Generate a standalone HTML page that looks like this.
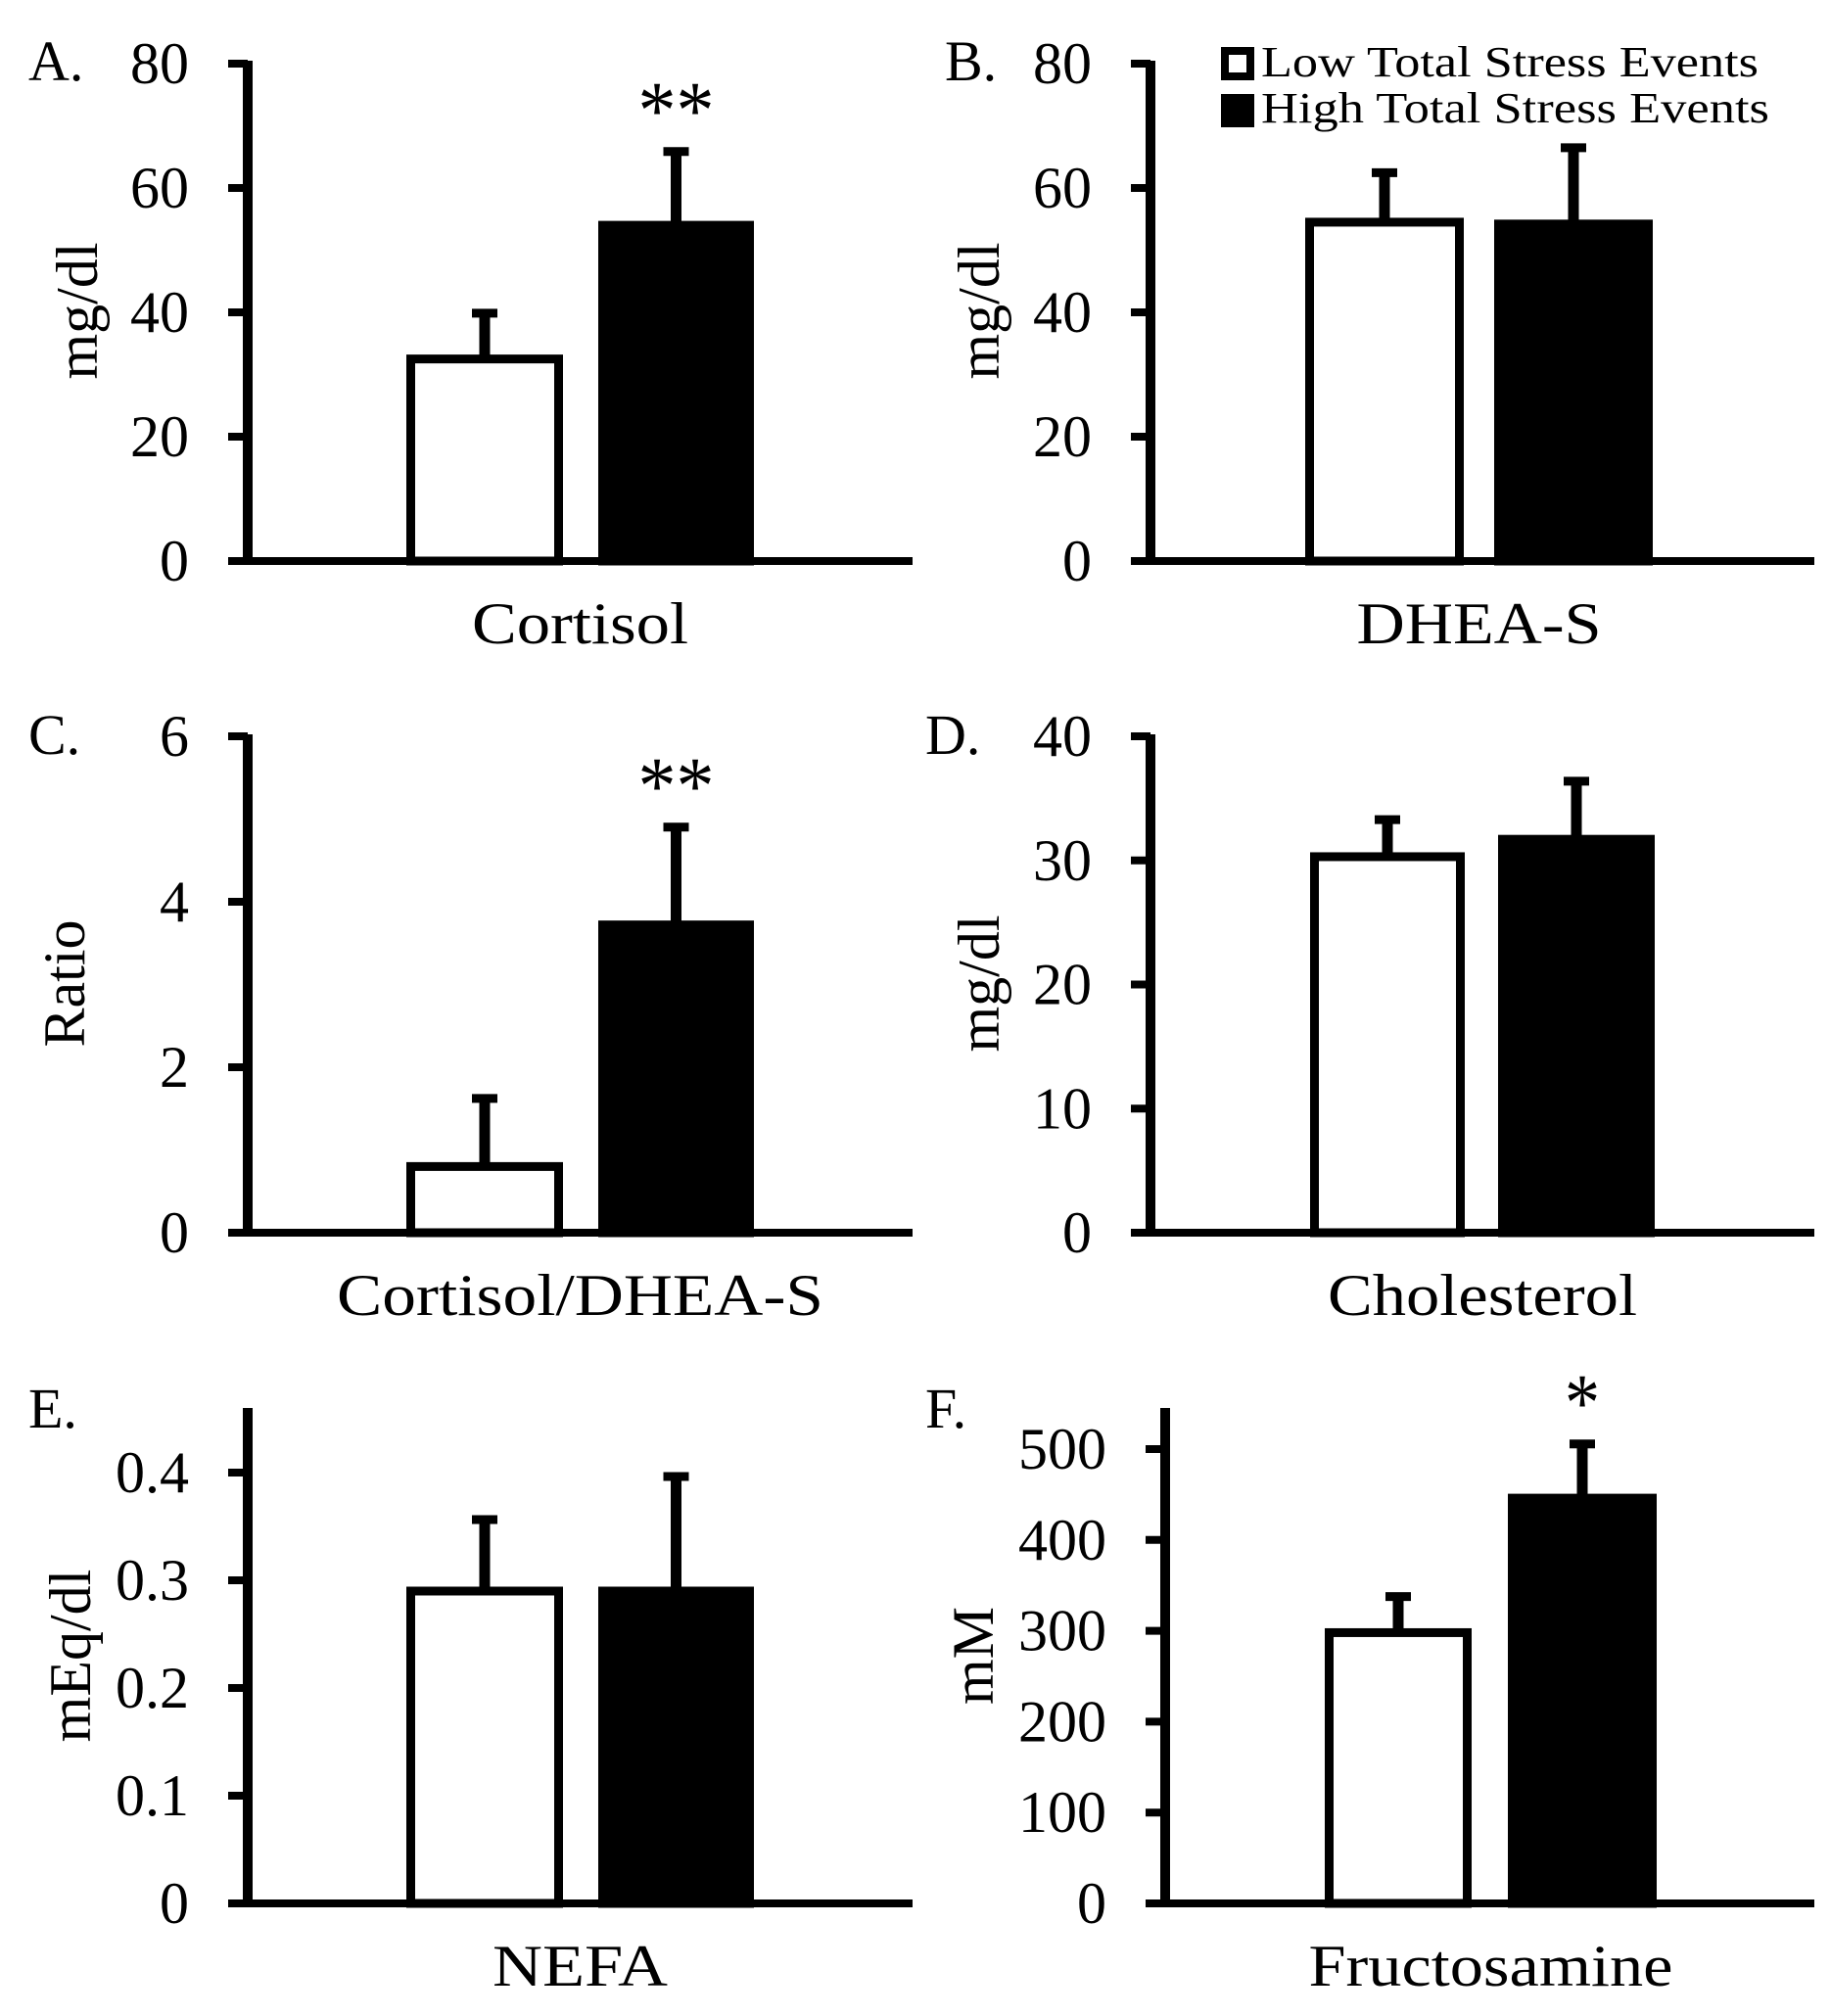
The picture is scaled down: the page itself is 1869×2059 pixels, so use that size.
<!DOCTYPE html>
<html><head><meta charset="utf-8"><style>
html,body{margin:0;padding:0;background:#fff}
svg{display:block}
text{font-family:"Liberation Serif",serif;fill:#000}
</style></head><body>
<svg id="chart" width="1869" height="2059" viewBox="0 0 1869 2059" xmlns="http://www.w3.org/2000/svg">
<g id="legend">
  <rect x="1251" y="52" width="26" height="26" fill="#fff" stroke="#000" stroke-width="8"/>
  <text x="1288" y="78" font-size="44" textLength="508" lengthAdjust="spacingAndGlyphs">Low Total Stress Events</text>
  <rect x="1247" y="96" width="34" height="34" fill="#000"/>
  <text x="1288" y="125" font-size="44" textLength="519" lengthAdjust="spacingAndGlyphs">High Total Stress Events</text>
</g>
</svg>
<script>
const panelLetters = ["A.", "B.", "C.", "D.", "E.", "F."];
const categories = ["Cortisol", "DHEA-S", "Cortisol/DHEA-S", "Cholesterol", "NEFA", "Fructosamine"];
const yTitles = ["mg/dl", "mg/dl", "Ratio", "mg/dl", "mEq/dl", "mM"];
const lowValues = [32.5, 54.5, 0.8, 30.3, 0.29, 298];
const lowErrors = [8, 8.6, 0.87, 3.3, 0.07, 44];
const highValues = [54, 54.2, 3.72, 31.7, 0.29, 446];
const highErrors = [12.5, 12.9, 1.23, 5, 0.11, 64];
const ticksA = [0, 20, 40, 60, 80];
const ticksB = [0, 20, 40, 60, 80];
const ticksC = [0, 2, 4, 6];
const ticksD = [0, 10, 20, 30, 40];
const ticksE = [0, 0.1, 0.2, 0.3, 0.4];
const ticksF = [0, 100, 200, 300, 400, 500];
const tickLabelsA = ["0", "20", "40", "60", "80"];
const tickLabelsB = ["0", "20", "40", "60", "80"];
const tickLabelsC = ["0", "2", "4", "6"];
const tickLabelsD = ["0", "10", "20", "30", "40"];
const tickLabelsE = ["0", "0.1", "0.2", "0.3", "0.4"];
const tickLabelsF = ["0", "100", "200", "300", "400", "500"];
const significance = ["**", "", "**", "", "", "*"];
const tickSets = [ticksA, ticksB, ticksC, ticksD, ticksE, ticksF];
const tickLabelSets = [tickLabelsA, tickLabelsB, tickLabelsC, tickLabelsD, tickLabelsE, tickLabelsF];

// layout (not data)
const layout = [
  {ax:253, x1:932, zero:573, topPx:65, topVal:80, axTop:62, b1:[415,575], b2:[611,770], letterX:29, titleX:79, catW:221, starW:78},
  {ax:1175, x1:1853, zero:573, topPx:65, topVal:80, axTop:62, b1:[1333,1495], b2:[1526,1688], letterX:965, titleX:1000, catW:250, starW:78},
  {ax:253, x1:932, zero:1259, topPx:752, topVal:6, axTop:750, b1:[415,575], b2:[611,770], letterX:29, titleX:66, catW:497, starW:78},
  {ax:1175, x1:1853, zero:1259, topPx:752, topVal:40, axTop:750, b1:[1338,1496], b2:[1530,1690], letterX:945, titleX:1000, catW:316, starW:78},
  {ax:253, x1:932, zero:1944, topPx:1504, topVal:0.4, axTop:1438, b1:[415,575], b2:[611,770], letterX:29, titleX:72, catW:179, starW:78},
  {ax:1190, x1:1853, zero:1944, topPx:1480, topVal:500, axTop:1438, b1:[1353,1503], b2:[1540,1692], letterX:945, titleX:994, catW:372, starW:36}
];
const NS = "http://www.w3.org/2000/svg";
const svg = document.getElementById("chart");
function mk(tag, attrs, parent) {
  const el = document.createElementNS(NS, tag);
  for (const k in attrs) el.setAttribute(k, attrs[k]);
  parent.appendChild(el);
  return el;
}
for (let p = 0; p < 6; p++) {
  const L = layout[p];
  const y = v => L.zero - (v / L.topVal) * (L.zero - L.topPx);
  const g = mk("g", {}, svg);
  
  
  const SW = 9;
  const bars = [[L.b1, lowValues[p], lowErrors[p], "#fff", "low"], [L.b2, highValues[p], highErrors[p], "#000", "high"]];
  bars.forEach(b => {
    const [xs, v, e, fill, nm] = b;
    const cx = (xs[0] + xs[1]) / 2;
    const ln = mk("line", {x1: cx, x2: cx, y1: y(v), y2: y(v + e), stroke: "#000", "stroke-width": 11}, g);
    
    
    const cap = mk("line", {x1: cx - 13, x2: cx + 13, y1: y(v + e) + 4, y2: y(v + e) + 4, stroke: "#000", "stroke-width": 9}, g);
    
    
    const r = mk("rect", {x: xs[0] + SW / 2, y: y(v), width: xs[1] - xs[0] - SW, height: L.zero - y(v), fill: fill, stroke: "#000", "stroke-width": SW}, g);
    
    
  });
  const ya = mk("line", {x1: L.ax, x2: L.ax, y1: L.axTop, y2: L.zero + 4, stroke: "#000", "stroke-width": 10}, g);
  
  
  const xa = mk("line", {x1: L.ax - 18, x2: L.x1, y1: L.zero, y2: L.zero, stroke: "#000", "stroke-width": 8}, g);
  
  
  const ticks = tickSets[p], labels = tickLabelSets[p];
  ticks.forEach((t, i) => {
    const ty = y(t);
    const tk = mk("line", {x1: L.ax - 20, x2: L.ax, y1: ty, y2: ty, stroke: "#000", "stroke-width": 8}, g);
    
    
    const tl = mk("text", {x: L.ax - 60, y: ty + 20, "font-size": 60, "text-anchor": "end"}, g);
    tl.textContent = labels[i];
    
    
  });
  const lt = mk("text", {x: L.letterX, y: L.axTop + 20, "font-size": 58}, g);
  lt.textContent = panelLetters[p];
  
  
  const cx = (L.b1[0] + L.b2[1]) / 2;
  const cl = mk("text", {x: cx, y: L.zero + 84, "font-size": 60, "text-anchor": "middle", textLength: L.catW, lengthAdjust: "spacingAndGlyphs"}, g);
  cl.textContent = categories[p];
  
  
  const ymid = (L.axTop + L.zero) / 2;
  const yt = mk("text", {x: 0, y: 0, "font-size": 60, "text-anchor": "middle", transform: "translate(" + (L.titleX + 20) + "," + ymid + ") rotate(-90)"}, g);
  yt.textContent = yTitles[p];
  
  
  if (significance[p]) {
    const bx = (L.b2[0] + L.b2[1]) / 2;
    const st = mk("text", {x: bx, y: y(highValues[p] + highErrors[p]) - 10, "font-size": 84, "text-anchor": "middle", textLength: L.starW, lengthAdjust: "spacingAndGlyphs"}, g);
    st.textContent = significance[p];
    
    
  }
}
</script>
</body></html>
